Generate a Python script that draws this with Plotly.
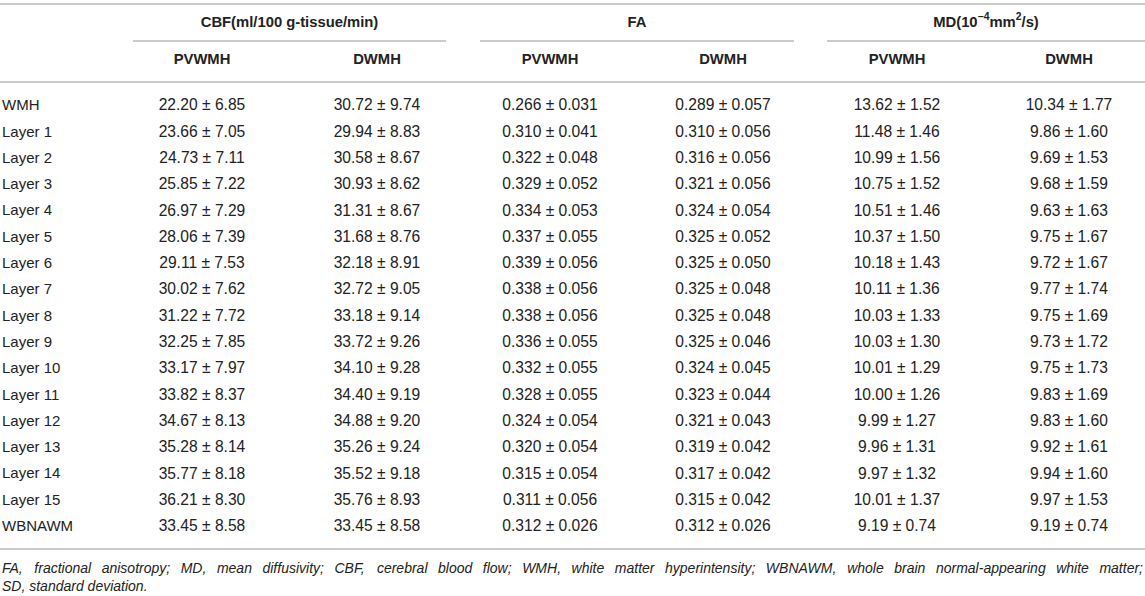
import plotly.graph_objects as go

# ---------------- data ----------------
row_labels = ["WMH"] + [f"Layer {i}" for i in range(1, 16)] + ["WBNAWM"]

cbf_pvwmh_mean = [22.20, 23.66, 24.73, 25.85, 26.97, 28.06, 29.11, 30.02, 31.22, 32.25, 33.17, 33.82, 34.67, 35.28, 35.77, 36.21, 33.45]
cbf_pvwmh_sd = [6.85, 7.05, 7.11, 7.22, 7.29, 7.39, 7.53, 7.62, 7.72, 7.85, 7.97, 8.37, 8.13, 8.14, 8.18, 8.30, 8.58]
cbf_dwmh_mean = [30.72, 29.94, 30.58, 30.93, 31.31, 31.68, 32.18, 32.72, 33.18, 33.72, 34.10, 34.40, 34.88, 35.26, 35.52, 35.76, 33.45]
cbf_dwmh_sd = [9.74, 8.83, 8.67, 8.62, 8.67, 8.76, 8.91, 9.05, 9.14, 9.26, 9.28, 9.19, 9.20, 9.24, 9.18, 8.93, 8.58]

fa_pvwmh_mean = [0.266, 0.310, 0.322, 0.329, 0.334, 0.337, 0.339, 0.338, 0.338, 0.336, 0.332, 0.328, 0.324, 0.320, 0.315, 0.311, 0.312]
fa_pvwmh_sd = [0.031, 0.041, 0.048, 0.052, 0.053, 0.055, 0.056, 0.056, 0.056, 0.055, 0.055, 0.055, 0.054, 0.054, 0.054, 0.056, 0.026]
fa_dwmh_mean = [0.289, 0.310, 0.316, 0.321, 0.324, 0.325, 0.325, 0.325, 0.325, 0.325, 0.324, 0.323, 0.321, 0.319, 0.317, 0.315, 0.312]
fa_dwmh_sd = [0.057, 0.056, 0.056, 0.056, 0.054, 0.052, 0.050, 0.048, 0.048, 0.046, 0.045, 0.044, 0.043, 0.042, 0.042, 0.042, 0.026]

md_pvwmh_mean = [13.62, 11.48, 10.99, 10.75, 10.51, 10.37, 10.18, 10.11, 10.03, 10.03, 10.01, 10.00, 9.99, 9.96, 9.97, 10.01, 9.19]
md_pvwmh_sd = [1.52, 1.46, 1.56, 1.52, 1.46, 1.50, 1.43, 1.36, 1.33, 1.30, 1.29, 1.26, 1.27, 1.31, 1.32, 1.37, 0.74]
md_dwmh_mean = [10.34, 9.86, 9.69, 9.68, 9.63, 9.75, 9.72, 9.77, 9.75, 9.73, 9.75, 9.83, 9.83, 9.92, 9.94, 9.97, 9.19]
md_dwmh_sd = [1.77, 1.60, 1.53, 1.59, 1.63, 1.67, 1.67, 1.74, 1.69, 1.72, 1.73, 1.69, 1.60, 1.61, 1.60, 1.53, 0.74]

group_titles = ["CBF(ml/100 g-tissue/min)", "FA", "MD(10<sup>\u22124</sup>mm<sup>2</sup>/s)"]
sub_titles = ["PVWMH", "DWMH", "PVWMH", "DWMH", "PVWMH", "DWMH"]
footnote_line1 = ("FA, fractional anisotropy; MD, mean diffusivity; CBF, cerebral blood flow; "
                  "WMH, white matter hyperintensity; WBNAWM, whole brain normal-appearing white matter;")
footnote_line2 = "SD, standard deviation."

columns = [
    (cbf_pvwmh_mean, cbf_pvwmh_sd, 2),
    (cbf_dwmh_mean, cbf_dwmh_sd, 2),
    (fa_pvwmh_mean, fa_pvwmh_sd, 3),
    (fa_dwmh_mean, fa_dwmh_sd, 3),
    (md_pvwmh_mean, md_pvwmh_sd, 2),
    (md_dwmh_mean, md_dwmh_sd, 2),
]

# ---------------- layout constants ----------------
W, H = 1145, 596
col_x = [202, 377, 550, 723, 897, 1069]
group_spans = [(133, 446), (480, 794), (827, 1145)]
label_x = 2
y_top_rule, y_group, y_group_rule, y_sub, y_head_rule = 4, 23, 41, 60, 82
y_first_row, row_step = 106.5, 26.3
y_bottom_rule, y_foot1, y_foot2 = 549, 569, 587

FONT = "Liberation Sans, Arial, Helvetica, sans-serif"
TEXT_COLOR = "#222222"
RULE_COLOR = "#b8b8b8"
FS_HEAD = 14.8
FS_LABEL = 15
FS_DATA = 15.6
FS_FOOT = 14

row_y = [y_first_row + i * row_step for i in range(len(row_labels))]

fig = go.Figure()

# row labels
fig.add_trace(go.Scatter(
    x=[label_x] * len(row_labels), y=row_y, mode="text", text=row_labels,
    textposition="middle right", textfont=dict(family=FONT, size=FS_LABEL, color=TEXT_COLOR),
    hoverinfo="skip"))

# data cells
for cx, (means, sds, nd) in zip(col_x, columns):
    cells = [f"{m:.{nd}f} \u00b1 {s:.{nd}f}" for m, s in zip(means, sds)]
    fig.add_trace(go.Scatter(
        x=[cx] * len(cells), y=row_y, mode="text", text=cells,
        textposition="middle center", textfont=dict(family=FONT, size=FS_DATA, color=TEXT_COLOR),
        hoverinfo="skip"))

# group headers
fig.add_trace(go.Scatter(
    x=[(a + b) / 2 for a, b in group_spans], y=[y_group] * 3, mode="text",
    text=[f"<b>{t}</b>" for t in group_titles], textposition="middle center",
    textfont=dict(family=FONT, size=FS_HEAD, color=TEXT_COLOR), hoverinfo="skip"))

# sub headers
fig.add_trace(go.Scatter(
    x=col_x, y=[y_sub] * len(col_x), mode="text",
    text=[f"<b>{t}</b>" for t in sub_titles], textposition="middle center",
    textfont=dict(family=FONT, size=FS_HEAD, color=TEXT_COLOR), hoverinfo="skip"))

# footnote: justified first line using Arial/Liberation metrics
cw = {' ': 278, ',': 278, ';': 278, '.': 278, '-': 333,
      'A': 667, 'B': 667, 'C': 722, 'D': 722, 'F': 611, 'H': 722, 'M': 833, 'N': 722, 'S': 667, 'W': 944,
      'a': 556, 'b': 556, 'c': 500, 'd': 556, 'e': 556, 'f': 278, 'g': 556, 'h': 556, 'i': 222,
      'l': 222, 'm': 833, 'n': 556, 'o': 556, 'p': 556, 'r': 333, 's': 500, 't': 278, 'u': 556,
      'v': 500, 'w': 722, 'y': 500}
words = footnote_line1.split()
widths = [sum(cw.get(ch, 556) for ch in w) / 1000 * FS_FOOT for w in words]
x_start, x_end = 2, 1143
gap = (x_end - x_start - sum(widths)) / (len(words) - 1)
word_x = []
cur = x_start
for wd in widths:
    word_x.append(cur)
    cur += wd + gap
fig.add_trace(go.Scatter(
    x=word_x[:-1], y=[y_foot1] * (len(words) - 1), mode="text",
    text=[f"<i>{w}</i>" for w in words[:-1]], textposition="middle right",
    textfont=dict(family=FONT, size=FS_FOOT, color=TEXT_COLOR), hoverinfo="skip"))
fig.add_trace(go.Scatter(
    x=[x_end], y=[y_foot1], mode="text", text=[f"<i>{words[-1]}</i>"],
    textposition="middle left", textfont=dict(family=FONT, size=FS_FOOT, color=TEXT_COLOR),
    hoverinfo="skip"))
fig.add_trace(go.Scatter(
    x=[x_start], y=[y_foot2], mode="text", text=[f"<i>{footnote_line2}</i>"],
    textposition="middle right", textfont=dict(family=FONT, size=FS_FOOT, color=TEXT_COLOR),
    hoverinfo="skip"))

# rules
shapes = []
for y in (y_top_rule, y_head_rule, y_bottom_rule):
    shapes.append(dict(type="line", xref="x", yref="y", x0=0, x1=W, y0=y, y1=y,
                       line=dict(color=RULE_COLOR, width=1.5)))
for a, b in group_spans:
    shapes.append(dict(type="line", xref="x", yref="y", x0=a, x1=b, y0=y_group_rule, y1=y_group_rule,
                       line=dict(color=RULE_COLOR, width=1.5)))

fig.update_layout(
    width=W, height=H, margin=dict(l=0, r=0, t=0, b=0),
    paper_bgcolor="white", plot_bgcolor="white", showlegend=False,
    xaxis=dict(range=[0, W], visible=False, fixedrange=True),
    yaxis=dict(range=[H, 0], visible=False, fixedrange=True),
    shapes=shapes,
)

fig.write_html("out.html", config={"displayModeBar": False},
               post_script="document.body.style.margin='0px';document.body.style.overflow='hidden';")
